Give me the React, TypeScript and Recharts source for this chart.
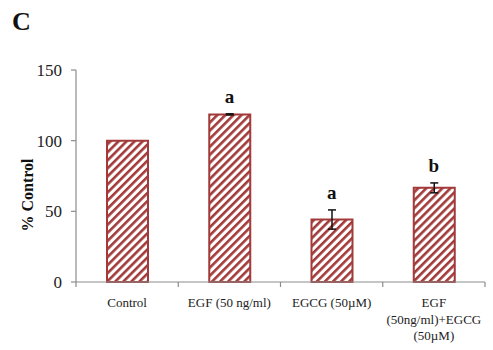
import React from 'react'
import {
  ComposedChart,
  Bar,
  Line,
  XAxis,
  YAxis,
  ErrorBar,
  LabelList,
} from 'recharts'

const groups = ['Control', 'EGF (50 ng/ml)', 'EGCG (50µM)', 'EGF\n(50ng/ml)+EGCG\n(50µM)']
const percentControl = [100, 118.6, 44.2, 66.6]
const stdErr = [0, 0.4, 6.8, 3.5]
const sigLetters = ['', 'a', 'a', 'b']
const yTicks = [0, 50, 100, 150]

const BAR_RED = '#a33a3a'
const AXIS_GREY = '#8c8c8c'
const SERIF = '"Liberation Serif", "Times New Roman", serif'

const W = 493
const H = 350
const PLOT_LEFT = 76
const PLOT_RIGHT = 8
const BAND = (W - PLOT_LEFT - PLOT_RIGHT) / groups.length

const rows = groups.map((g, i) => ({
  group: g,
  pct: percentControl[i],
  err: stdErr[i],
  top: percentControl[i] + stdErr[i],
  letter: sigLetters[i],
}))

// category label plus the short tick marks on the band edges
function GroupTick(props: any) {
  const { x, y, payload, index } = props
  const lines = String(payload.value).split('\n')
  const last = index === groups.length - 1
  return (
    <g>
      <line x1={x - BAND / 2} x2={x - BAND / 2} y1={y} y2={y + 5} stroke={AXIS_GREY} strokeWidth={1.2} />
      {last && (
        <line x1={x + BAND / 2} x2={x + BAND / 2} y1={y} y2={y + 5} stroke={AXIS_GREY} strokeWidth={1.2} />
      )}
      <text x={x} y={y + 25} textAnchor="middle" fill="#222" fontSize={13} fontFamily={SERIF}>
        {lines.map((l, i) => (
          <tspan key={i} x={x} dy={i === 0 ? 0 : 16.5}>
            {l}
          </tspan>
        ))}
      </text>
    </g>
  )
}

function YTitle() {
  return (
    <text
      x={27}
      y={195}
      transform="rotate(-90, 27, 195)"
      textAnchor="middle"
      dominantBaseline="central"
      fontSize={16}
      fontWeight="bold"
      fontFamily={SERIF}
      fill="#111"
    >
      % Control
    </text>
  )
}

export default function App() {
  return (
    <div style={{ position: 'absolute', left: 0, top: 0, width: W, height: H, background: '#fff' }}>
      <div
        style={{
          position: 'absolute',
          left: 12,
          top: 9,
          fontFamily: SERIF,
          fontWeight: 'bold',
          fontSize: 26,
          lineHeight: '26px',
          color: '#111',
        }}
      >
        C
      </div>
      <ComposedChart
        width={W}
        height={H}
        data={rows}
        margin={{ top: 70, right: PLOT_RIGHT, bottom: 0, left: 0 }}
        style={{ fontFamily: SERIF }}
      >
        <defs>
          <pattern
            id="redHatch"
            patternUnits="userSpaceOnUse"
            width={5.7}
            height={10}
            patternTransform="rotate(45)"
          >
            <rect x={0} y={0} width={5.7} height={10} fill="#fff" />
            <rect x={0} y={0} width={2.6} height={10} fill={BAR_RED} />
          </pattern>
        </defs>
        <XAxis
          dataKey="group"
          height={68}
          tick={<GroupTick />}
          tickLine={false}
          tickSize={0}
          tickMargin={0}
          interval={0}
          axisLine={{ stroke: AXIS_GREY, strokeWidth: 1.2 }}
        />
        <YAxis
          width={PLOT_LEFT}
          domain={[0, 150]}
          ticks={yTicks}
          tickSize={5}
          tickMargin={9}
          tick={{ fontSize: 17, fill: '#222', fontFamily: SERIF }}
          tickLine={{ stroke: AXIS_GREY, strokeWidth: 1.2 }}
          axisLine={{ stroke: AXIS_GREY, strokeWidth: 1.2 }}
          label={<YTitle />}
        />
        <Bar
          dataKey="pct"
          barSize={41}
          fill="url(#redHatch)"
          stroke={BAR_RED}
          strokeWidth={2}
          isAnimationActive={false}
        >
          <ErrorBar dataKey="err" direction="y" width={4} stroke="#111" strokeWidth={1.5} />
        </Bar>
        <Line
          dataKey="top"
          stroke="none"
          dot={false}
          activeDot={false}
          legendType="none"
          isAnimationActive={false}
        >
          <LabelList
            dataKey="letter"
            position="top"
            offset={11}
            fontSize={19}
            fontWeight="bold"
            fontFamily={SERIF}
            fill="#111"
          />
        </Line>
      </ComposedChart>
    </div>
  )
}
